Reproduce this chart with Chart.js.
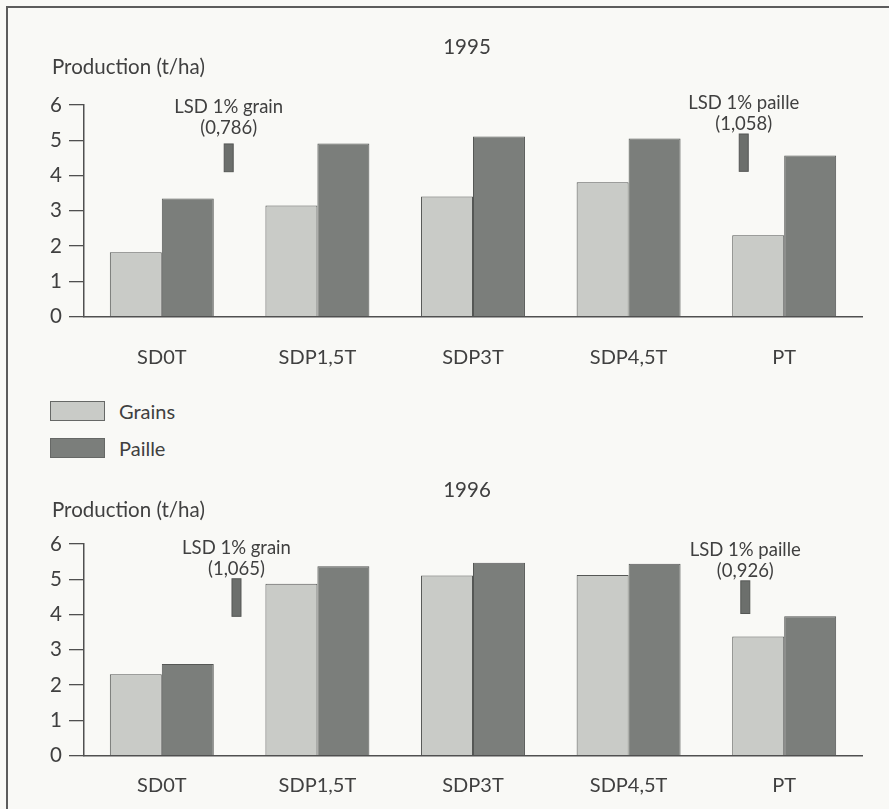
<!DOCTYPE html>
<html lang="fr">
<head>
<meta charset="utf-8">
<title>Production (t/ha) 1995 – 1996</title>
<script src="https://cdn.jsdelivr.net/npm/chart.js@4.4.1/dist/chart.umd.min.js"></script>
<style>
  html, body { margin: 0; padding: 0; background: #f9f9f6; }
  #page { position: relative; width: 889px; height: 809px; overflow: hidden;
          font-family: Lato, "DejaVu Sans", sans-serif; color: #404040; }
  #frame { position: absolute; left: 6px; top: 6px; right: -10px; bottom: -10px;
           border-top: 2px solid #5c5c5c; border-left: 2px solid #5c5c5c; }
  canvas { position: absolute; left: 0; }
  #c1995 { top: 0; }
  #c1996 { top: 460px; }
  #legend { position: absolute; left: 50px; top: 392px; }
  .item { display: flex; align-items: center; height: 37px; }
  .swatch { width: 53px; height: 18px; box-sizing: content-box; margin-right: 14px; }
  .item span { font-size: 20px; line-height: 22px; }
</style>
</head>
<body>
<div id="page">
  <div id="frame"></div>
  <canvas id="c1995" width="889" height="380"></canvas>
  <div id="legend"></div>
  <canvas id="c1996" width="889" height="349"></canvas>
</div>
<script>
// Treatments on the x axis
const categories = ['SD0T', 'SDP1,5T', 'SDP3T', 'SDP4,5T', 'PT'];

// Yields in t/ha
const grains1995 = [1.83, 3.15, 3.41, 3.81, 2.31];
const paille1995 = [3.35, 4.91, 5.11, 5.05, 4.57];
const grains1996 = [2.31, 4.87, 5.11, 5.12, 3.38];
const paille1996 = [2.60, 5.37, 5.47, 5.44, 3.95];

// Least significant differences at 1 % (grain, paille)
const lsdKinds = ['grain', 'paille'];
const lsd1995 = [0.786, 1.058];
const lsd1996 = [1.065, 0.926];

// y axis ticks
const yTicks = [0, 1, 2, 3, 4, 5, 6];

const FONT = 'Lato, "DejaVu Sans", sans-serif';
const TEXT = '#404040';
const AXIS = '#505050';
const GRAIN_FILL = '#c9cbc7';
const PAILLE_FILL = '#7b7e7b';
const BAR_EDGE = '#555755';
const MARK_FILL = '#6c6f6c';

const fmt = v => v.toFixed(3).replace('.', ',');

// Draws the year caption, the axis caption and the LSD bars with their labels
const lsdPlugin = {
  id: 'lsdMarks',
  afterDraw(chart, args, opts) {
    const { ctx } = chart;
    const xs = chart.scales.x, ys = chart.scales.y;
    ctx.save();
    ctx.fillStyle = TEXT;
    ctx.textBaseline = 'middle';
    ctx.font = `20.5px ${FONT}`;
    ctx.textAlign = 'center';
    ctx.fillText(opts.title, opts.titleX, opts.titleY);
    ctx.textAlign = 'left';
    ctx.fillText('Production (t/ha)', opts.axisX, opts.axisY);

    const step = xs.getPixelForValue(1) - xs.getPixelForValue(0);
    opts.marks.forEach((m, i) => {
      const value = opts.values[i];
      const cx = xs.getPixelForValue(0) + m.at * step;
      const top = ys.getPixelForValue(m.base + value);
      const bot = ys.getPixelForValue(m.base);
      ctx.fillStyle = MARK_FILL;
      ctx.fillRect(cx - 4.5, top, 9, bot - top);
      ctx.strokeStyle = BAR_EDGE;
      ctx.lineWidth = 1;
      ctx.strokeRect(cx - 4.5, top, 9, bot - top);
      const ly = ys.getPixelForValue(m.labelAt);
      ctx.fillStyle = TEXT;
      ctx.textAlign = 'center';
      ctx.font = `18.5px ${FONT}`;
      ctx.fillText(`LSD 1% ${lsdKinds[i]}`, cx, ly - 21);
      ctx.fillText(`(${fmt(value)})`, cx, ly);
    });
    ctx.restore();
  }
};

function makeChart(id, grains, paille, layout) {
  return new Chart(document.getElementById(id), {
    type: 'bar',
    data: {
      labels: categories,
      datasets: [
        { label: 'Grains', data: grains, backgroundColor: GRAIN_FILL, borderColor: BAR_EDGE, borderWidth: 1 },
        { label: 'Paille', data: paille, backgroundColor: PAILLE_FILL, borderColor: BAR_EDGE, borderWidth: 1 }
      ]
    },
    options: {
      responsive: false,
      maintainAspectRatio: false,
      animation: false,
      layout: { padding: { top: layout.top, right: 27, left: 0, bottom: 0 } },
      datasets: { bar: { categoryPercentage: 0.668, barPercentage: 1 } },
      plugins: {
        legend: { display: false },
        tooltip: { enabled: false },
        lsdMarks: layout.annot
      },
      scales: {
        x: {
          grid: { display: false },
          border: { display: true, color: AXIS, width: 1.5 },
          ticks: { padding: layout.xPad, color: TEXT, font: { family: FONT, size: 20 } },
          afterFit: s => { s.height = layout.xHeight; }
        },
        y: {
          min: 0, max: 6,
          afterBuildTicks: s => { s.ticks = yTicks.map(v => ({ value: v })); },
          ticks: { padding: 7, color: TEXT, font: { family: FONT, size: 20.5 } },
          grid: { drawOnChartArea: false, drawTicks: true, tickLength: 15, color: AXIS, lineWidth: 1.3 },
          border: { color: AXIS, width: 1.5 },
          afterFit: s => { s.width = 84; }
        }
      }
    },
    plugins: [lsdPlugin]
  });
}

const chart1995 = makeChart('c1995', grains1995, paille1995, {
  top: 105, xHeight: 63.3, xPad: 21,
  annot: {
    title: '1995', titleX: 467, titleY: 47, axisX: 52, axisY: 67,
    values: lsd1995,
    marks: [ { at: 0.43, base: 4.11, labelAt: 5.35 }, { at: 3.74, base: 4.12, labelAt: 5.47 } ]
  }
});

makeChart('c1996', grains1996, paille1996, {
  top: 84, xHeight: 53.3, xPad: 10,
  annot: {
    title: '1996', titleX: 467, titleY: 30, axisX: 52, axisY: 50,
    values: lsd1996,
    marks: [ { at: 0.48, base: 3.95, labelAt: 5.29 }, { at: 3.75, base: 4.03, labelAt: 5.24 } ]
  }
});

// Legend built from the chart's own datasets
const legend = document.getElementById('legend');
chart1995.data.datasets.forEach(ds => {
  const row = document.createElement('div');
  row.className = 'item';
  const sw = document.createElement('div');
  sw.className = 'swatch';
  sw.style.background = ds.backgroundColor;
  sw.style.border = '1.5px solid #666866';
  const label = document.createElement('span');
  label.textContent = ds.label;
  row.appendChild(sw);
  row.appendChild(label);
  legend.appendChild(row);
});
</script>
</body>
</html>
